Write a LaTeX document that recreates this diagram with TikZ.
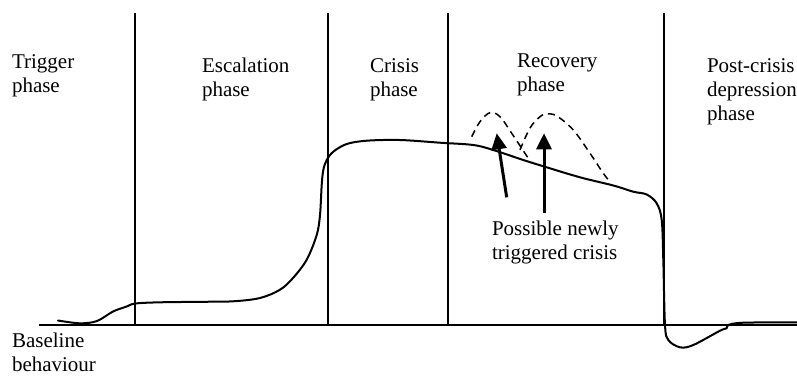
\documentclass[tikz,border=0pt]{standalone}
\usepackage{fontspec}
\setmainfont{Liberation Serif}
\usetikzlibrary{arrows.meta}

\begin{document}
\begin{tikzpicture}[x=0.5pt,y=-0.5pt,
  phaseline/.style={line width=1pt},
  phaselabel/.style={anchor=base west,align=left,inner sep=0pt,outer sep=0pt,font=\fontsize{10.5}{12}\selectfont},
  behaviour/.style={line width=1pt,line join=round,line cap=round},
  retrigger/.style={line width=0.75pt,dash pattern=on 3.5pt off 2.5pt},
  pointer/.style={line width=1.5pt,-{Triangle[length=8pt,width=7.5pt]}}]
\path[use as bounding box] (0,0) rectangle (797,376);

% time axis and phase borders
\coordinate (axisstart) at (39,325);
\coordinate (axisend) at (797,325);
\draw[phaseline] (axisstart) -- (axisend);
\foreach \xpos in {135,328,448,664}{
  \draw[phaseline] (\xpos,13) -- (\xpos,325);
}

% phase names (placed at the baseline of their last line)
\node[phaselabel] (trigger) at (12,92) {Trigger\\phase};
\node[phaselabel] (escalation) at (202,96) {Escalation\\phase};
\node[phaselabel] (crisis) at (370,96) {Crisis\\phase};
\node[phaselabel] (recovery) at (517,91) {Recovery\\phase};
\node[phaselabel] (postcrisis) at (707,120) {Post-crisis\\depression\\phase};
\node[phaselabel] (baseline) at (12,371) {Baseline\\behaviour};
\node[phaselabel] (newcrisis) at (492,259) {Possible newly\\triggered crisis};

% behaviour over time
\draw[behaviour] plot[smooth,tension=0.55] coordinates {
  (58,320.5) (80,323.3) (97,321) (113,311.5) (126.7,306.5) (135.3,303.5)
  (160,302.3) (200,301.8) (233,301.3) (260,298) (280,289.7) (293,278)
  (306.7,259.7) (316.7,235) (320,215) (321.7,185) (323.3,170) (326.7,160)
  (333.3,151.7) (346.7,144) (366.7,140.7) (400,140) (440,142.7) (473.3,145)
  (493.3,150) (523.3,160) (546.7,167.3) (580,177.3) (613.3,185.5) (633.3,191.7)
  (646.7,194.5) (656.7,203.3) (661.7,220) (663.3,260) (665,325) (668.3,340)
  (680,347.3) (693.3,345) (720,330.7) (726.7,328.3) (728.3,325) (743.3,322.7)
  (797,322.3)};

% possible new crises
\draw[retrigger] plot[smooth,tension=0.6] coordinates {
  (471.7,136.7) (480,121.7) (490,112.7) (500,116.7) (511.7,133.3) (521.7,148.3) (528.3,158.3)};
\draw[retrigger] plot[smooth,tension=0.6] coordinates {
  (520,150) (530,128) (540,116.7) (546.7,114) (556.7,116) (573.3,130) (590,153.3) (603.3,173.3) (610,181.7)};

\coordinate (tipA) at (496.7,133.3);
\coordinate (tailA) at (506.7,197.3);
\coordinate (tipB) at (544,133.3);
\coordinate (tailB) at (544,213.3);
\draw[pointer] (tailA) -- (tipA);
\draw[pointer] (tailB) -- (tipB);
\end{tikzpicture}
\end{document}
